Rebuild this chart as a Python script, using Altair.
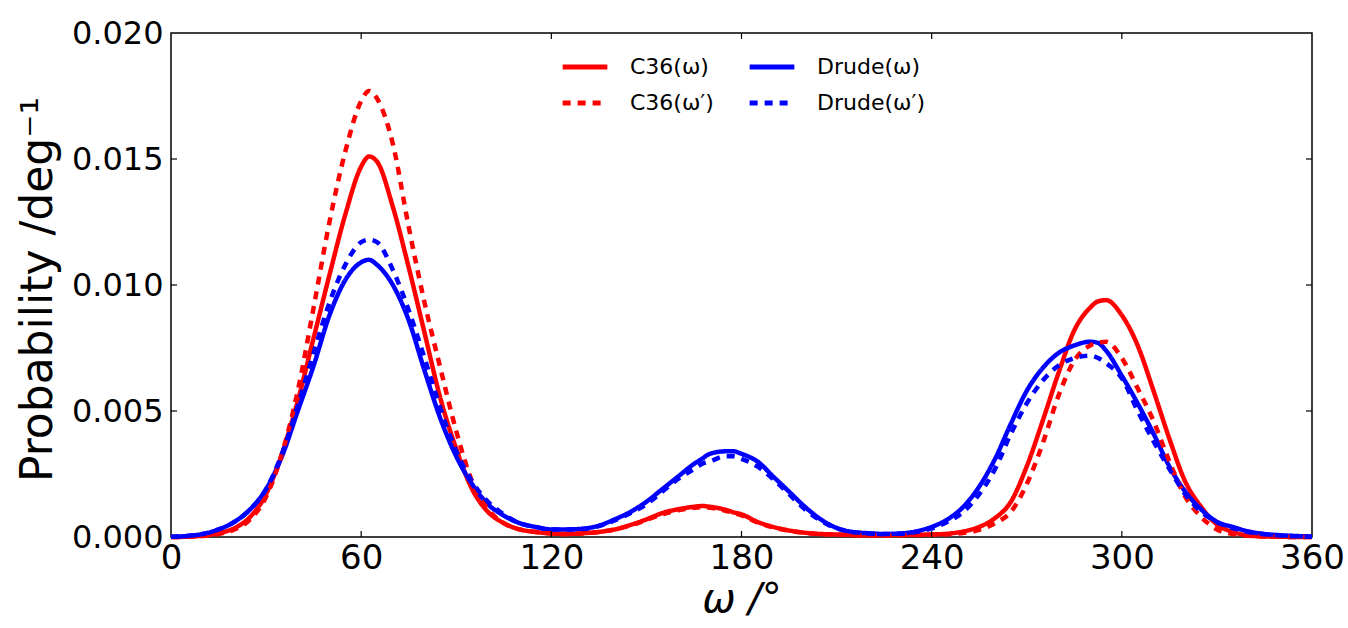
import altair as alt
import pandas as pd

# ---------------- data ----------------
omega = [0, 5, 10, 15, 20, 25, 30, 35, 40, 45, 50, 55, 60,
         62.5,
         65, 70, 75, 80, 85, 90, 95, 100, 105, 110, 115, 120, 125, 130, 135, 140, 145, 150, 155, 160, 165,
         167.5,
         170, 175,
         177.5,
         180, 185, 190, 195, 200, 205, 210, 215, 220, 225, 230, 235, 240, 245, 250, 255, 260, 265, 270,
         275, 280, 285, 290,
         292.5,
         295, 300, 305, 310, 315, 320, 325, 330, 335, 340, 345, 350, 355, 360]

c36_w = [0.0, 0.00001, 0.00005, 0.00015, 0.00035, 0.0008, 0.0017, 0.0033, 0.0054, 0.0079, 0.0104, 0.0128, 0.0147,
         0.0151,
         0.0149, 0.0131, 0.0107, 0.0081, 0.0055, 0.0035, 0.0019, 0.0010, 0.00055, 0.0003, 0.0002, 0.00014, 0.00012,
         0.00015, 0.0002, 0.0003, 0.00048, 0.0007, 0.00095, 0.0011, 0.0012,
         0.00123,
         0.0012, 0.00108,
         0.00098,
         0.0009, 0.0006, 0.0004, 0.00026, 0.00017, 0.00012, 0.0001, 0.00008, 0.00007, 0.00007, 0.00008, 0.00009,
         0.0001, 0.00013, 0.00022, 0.0004, 0.00075, 0.0014, 0.0028, 0.0046, 0.0065, 0.0082, 0.0091,
         0.00935,
         0.0094, 0.0088, 0.0076, 0.0058, 0.0039, 0.0022, 0.0012, 0.0005, 0.0002, 0.00006, 0.00002, 0.00001, 0.0, 0.0]

c36_wp = [0.0, 0.00001, 0.00004, 0.00012, 0.0003, 0.0007, 0.0016, 0.0033, 0.0058, 0.0091, 0.0125, 0.0153, 0.0173,
          0.0177,
          0.0174, 0.0156, 0.0123, 0.0093, 0.0067, 0.0042, 0.0022, 0.0011, 0.00055, 0.0003, 0.0002, 0.00014, 0.00012,
          0.00014, 0.0002, 0.0003, 0.00046, 0.00068, 0.0009, 0.00106, 0.00116,
          0.00118,
          0.00116, 0.00104,
          0.00095,
          0.00086, 0.00058, 0.00038, 0.00025, 0.00016, 0.00011, 0.00009, 0.00007, 0.00006, 0.00006, 0.00007, 0.00008,
          0.00009, 0.00011, 0.00016, 0.00028, 0.00055, 0.001, 0.0021, 0.0037, 0.0056, 0.0070, 0.0076,
          0.0077,
          0.00775, 0.0071, 0.0059, 0.0046, 0.003, 0.0016, 0.0008, 0.0003, 0.00012, 0.00005, 0.00002, 0.00001, 0.0, 0.0]

drude_w = [0.00001, 0.00004, 0.00012, 0.0003, 0.0006, 0.0011, 0.0019, 0.0032, 0.0050, 0.0068, 0.0088, 0.0102, 0.0109,
           0.0110,
           0.0108, 0.0100, 0.0086, 0.0066, 0.0047, 0.0032, 0.0021, 0.0013, 0.00085, 0.00055, 0.0004, 0.0003, 0.0003,
           0.00033, 0.00045, 0.0007, 0.001, 0.0014, 0.0019, 0.0024, 0.0029,
           0.0031,
           0.0033, 0.0034,
           0.0034,
           0.0033, 0.0030, 0.0024, 0.0018, 0.0012, 0.0007, 0.00036, 0.0002, 0.00015, 0.00012, 0.00014, 0.00022,
           0.0004, 0.0007, 0.0012, 0.002, 0.0031, 0.0045, 0.0058, 0.0067, 0.0073, 0.0076, 0.00775,
           0.0077,
           0.0074, 0.0064, 0.0053, 0.0041, 0.0028, 0.0018, 0.0011, 0.0006, 0.0004, 0.00022, 0.00012, 0.00007, 0.00004,
           0.00002]

drude_wp = [0.00001, 0.00004, 0.00012, 0.0003, 0.0006, 0.0011, 0.0019, 0.0033, 0.0052, 0.0073, 0.0093, 0.0108, 0.0117,
            0.0118,
            0.0117, 0.0106, 0.0090, 0.0071, 0.0051, 0.0034, 0.0022, 0.0014, 0.0009, 0.00055, 0.0004, 0.0003, 0.0003,
            0.00032, 0.00043, 0.00066, 0.00095, 0.0013, 0.0018, 0.0023, 0.0027,
            0.0029,
            0.0030, 0.0032,
            0.0032,
            0.0031, 0.0028, 0.0023, 0.0017, 0.0011, 0.00065, 0.00034, 0.0002, 0.00014, 0.00012, 0.00013, 0.0002,
            0.00034, 0.0006, 0.001, 0.0017, 0.0027, 0.0041, 0.0053, 0.0062, 0.0068, 0.0071, 0.0072,
            0.0071,
            0.0069, 0.0063, 0.005, 0.0038, 0.0027, 0.0017, 0.001, 0.0006, 0.00035, 0.0002, 0.00011, 0.00006, 0.00003,
            0.00001]

# legend entries (domain order chosen so the 2-column legend reads row by row)
legend_domain = ["C36(ω)", "C36(ω′)", "Drude(ω)", "Drude(ω′)"]
legend_colors = ["#ff0000", "#ff0000", "#0000ff", "#0000ff"]
legend_dash = [[1, 0], [8, 7], [1, 0], [8, 7]]

x_ticks = [0, 60, 120, 180, 240, 300, 360]
y_ticks = [0.000, 0.005, 0.010, 0.015, 0.020]

# ---------------- build table ----------------
draw_order = [("C36(ω)", c36_w), ("Drude(ω)", drude_w), ("C36(ω′)", c36_wp), ("Drude(ω′)", drude_wp)]
rows = []
for k, (name, vals) in enumerate(draw_order):
    for x, v in zip(omega, vals):
        rows.append({"omega": x, "p": v, "series": name, "ord": k})
df = pd.DataFrame(rows)

W, H = 1141, 504
FONT = "DejaVu Sans"

xscale = alt.Scale(domain=[0, 360], nice=False, zero=False)
yscale = alt.Scale(domain=[0, 0.02], nice=False)

lines = alt.Chart(df).mark_line(strokeWidth=4.5, interpolate="monotone").encode(
    x=alt.X("omega:Q", scale=xscale,
            axis=alt.Axis(values=x_ticks, ticks=False, domain=False, grid=False, labelFontSize=34,
                          labelFont=FONT, labelColor="black", labelPadding=4, labelFlush=False,
                          title="ω /°", titleFont=FONT, titleFontSize=40, titleFontStyle="italic",
                          titleFontWeight="normal", titleColor="black", titleX=W / 2, titleY=62,
                          titleBaseline="middle", titleAlign="center")),
    y=alt.Y("p:Q", scale=yscale,
            axis=alt.Axis(values=y_ticks, format=".3f", ticks=False, domain=False, grid=False,
                          labelFontSize=32, labelFont=FONT, labelColor="black", labelPadding=8,
                          labelFlush=False,
                          title="Probability /deg⁻¹", titleFont=FONT, titleFontSize=44,
                          titleFontWeight="normal", titleColor="black", titleX=-133, titleY=H / 2 + 4,
                          titleAngle=270, titleAlign="center", titleBaseline="middle")),
    color=alt.Color("series:N", scale=alt.Scale(domain=legend_domain, range=legend_colors),
                    legend=alt.Legend(title=None, orient="none", legendX=389, legendY=9, columns=2,
                                      symbolType="stroke", symbolSize=2000, symbolStrokeWidth=5,
                                      labelFont=FONT, labelFontSize=22, labelColor="black",
                                      labelOffset=20, columnPadding=25, rowPadding=-8, padding=0)),
    strokeDash=alt.StrokeDash("series:N", scale=alt.Scale(domain=legend_domain, range=legend_dash),
                              legend=alt.Legend(title=None, orient="none", legendX=389, legendY=9,
                                                columns=2)),
    detail="series:N",
    order="ord:Q",
)

xt = pd.DataFrame({"omega": x_ticks[1:-1]})
yt = pd.DataFrame({"p": y_ticks[1:-1]})
TL = 6
tick_style = dict(color="black", strokeWidth=1.2)
bottom_ticks = alt.Chart(xt).mark_rule(**tick_style).encode(
    x=alt.X("omega:Q", scale=xscale), y=alt.value(H), y2=alt.value(H - TL))
top_ticks = alt.Chart(xt).mark_rule(**tick_style).encode(
    x=alt.X("omega:Q", scale=xscale), y=alt.value(0), y2=alt.value(TL))
left_ticks = alt.Chart(yt).mark_rule(**tick_style).encode(
    y=alt.Y("p:Q", scale=yscale), x=alt.value(0), x2=alt.value(TL))
right_ticks = alt.Chart(yt).mark_rule(**tick_style).encode(
    y=alt.Y("p:Q", scale=yscale), x=alt.value(W), x2=alt.value(W - TL))

chart = alt.layer(lines, bottom_ticks, top_ticks, left_ticks, right_ticks).properties(
    width=W, height=H,
    autosize=alt.AutoSizeParams(type="none"),
    padding={"left": 171, "top": 33, "right": 36, "bottom": 91},
    background="white",
).configure_view(stroke="black", strokeWidth=1.5)

chart.save("out.html", embed_options={"renderer": "svg", "actions": False})
